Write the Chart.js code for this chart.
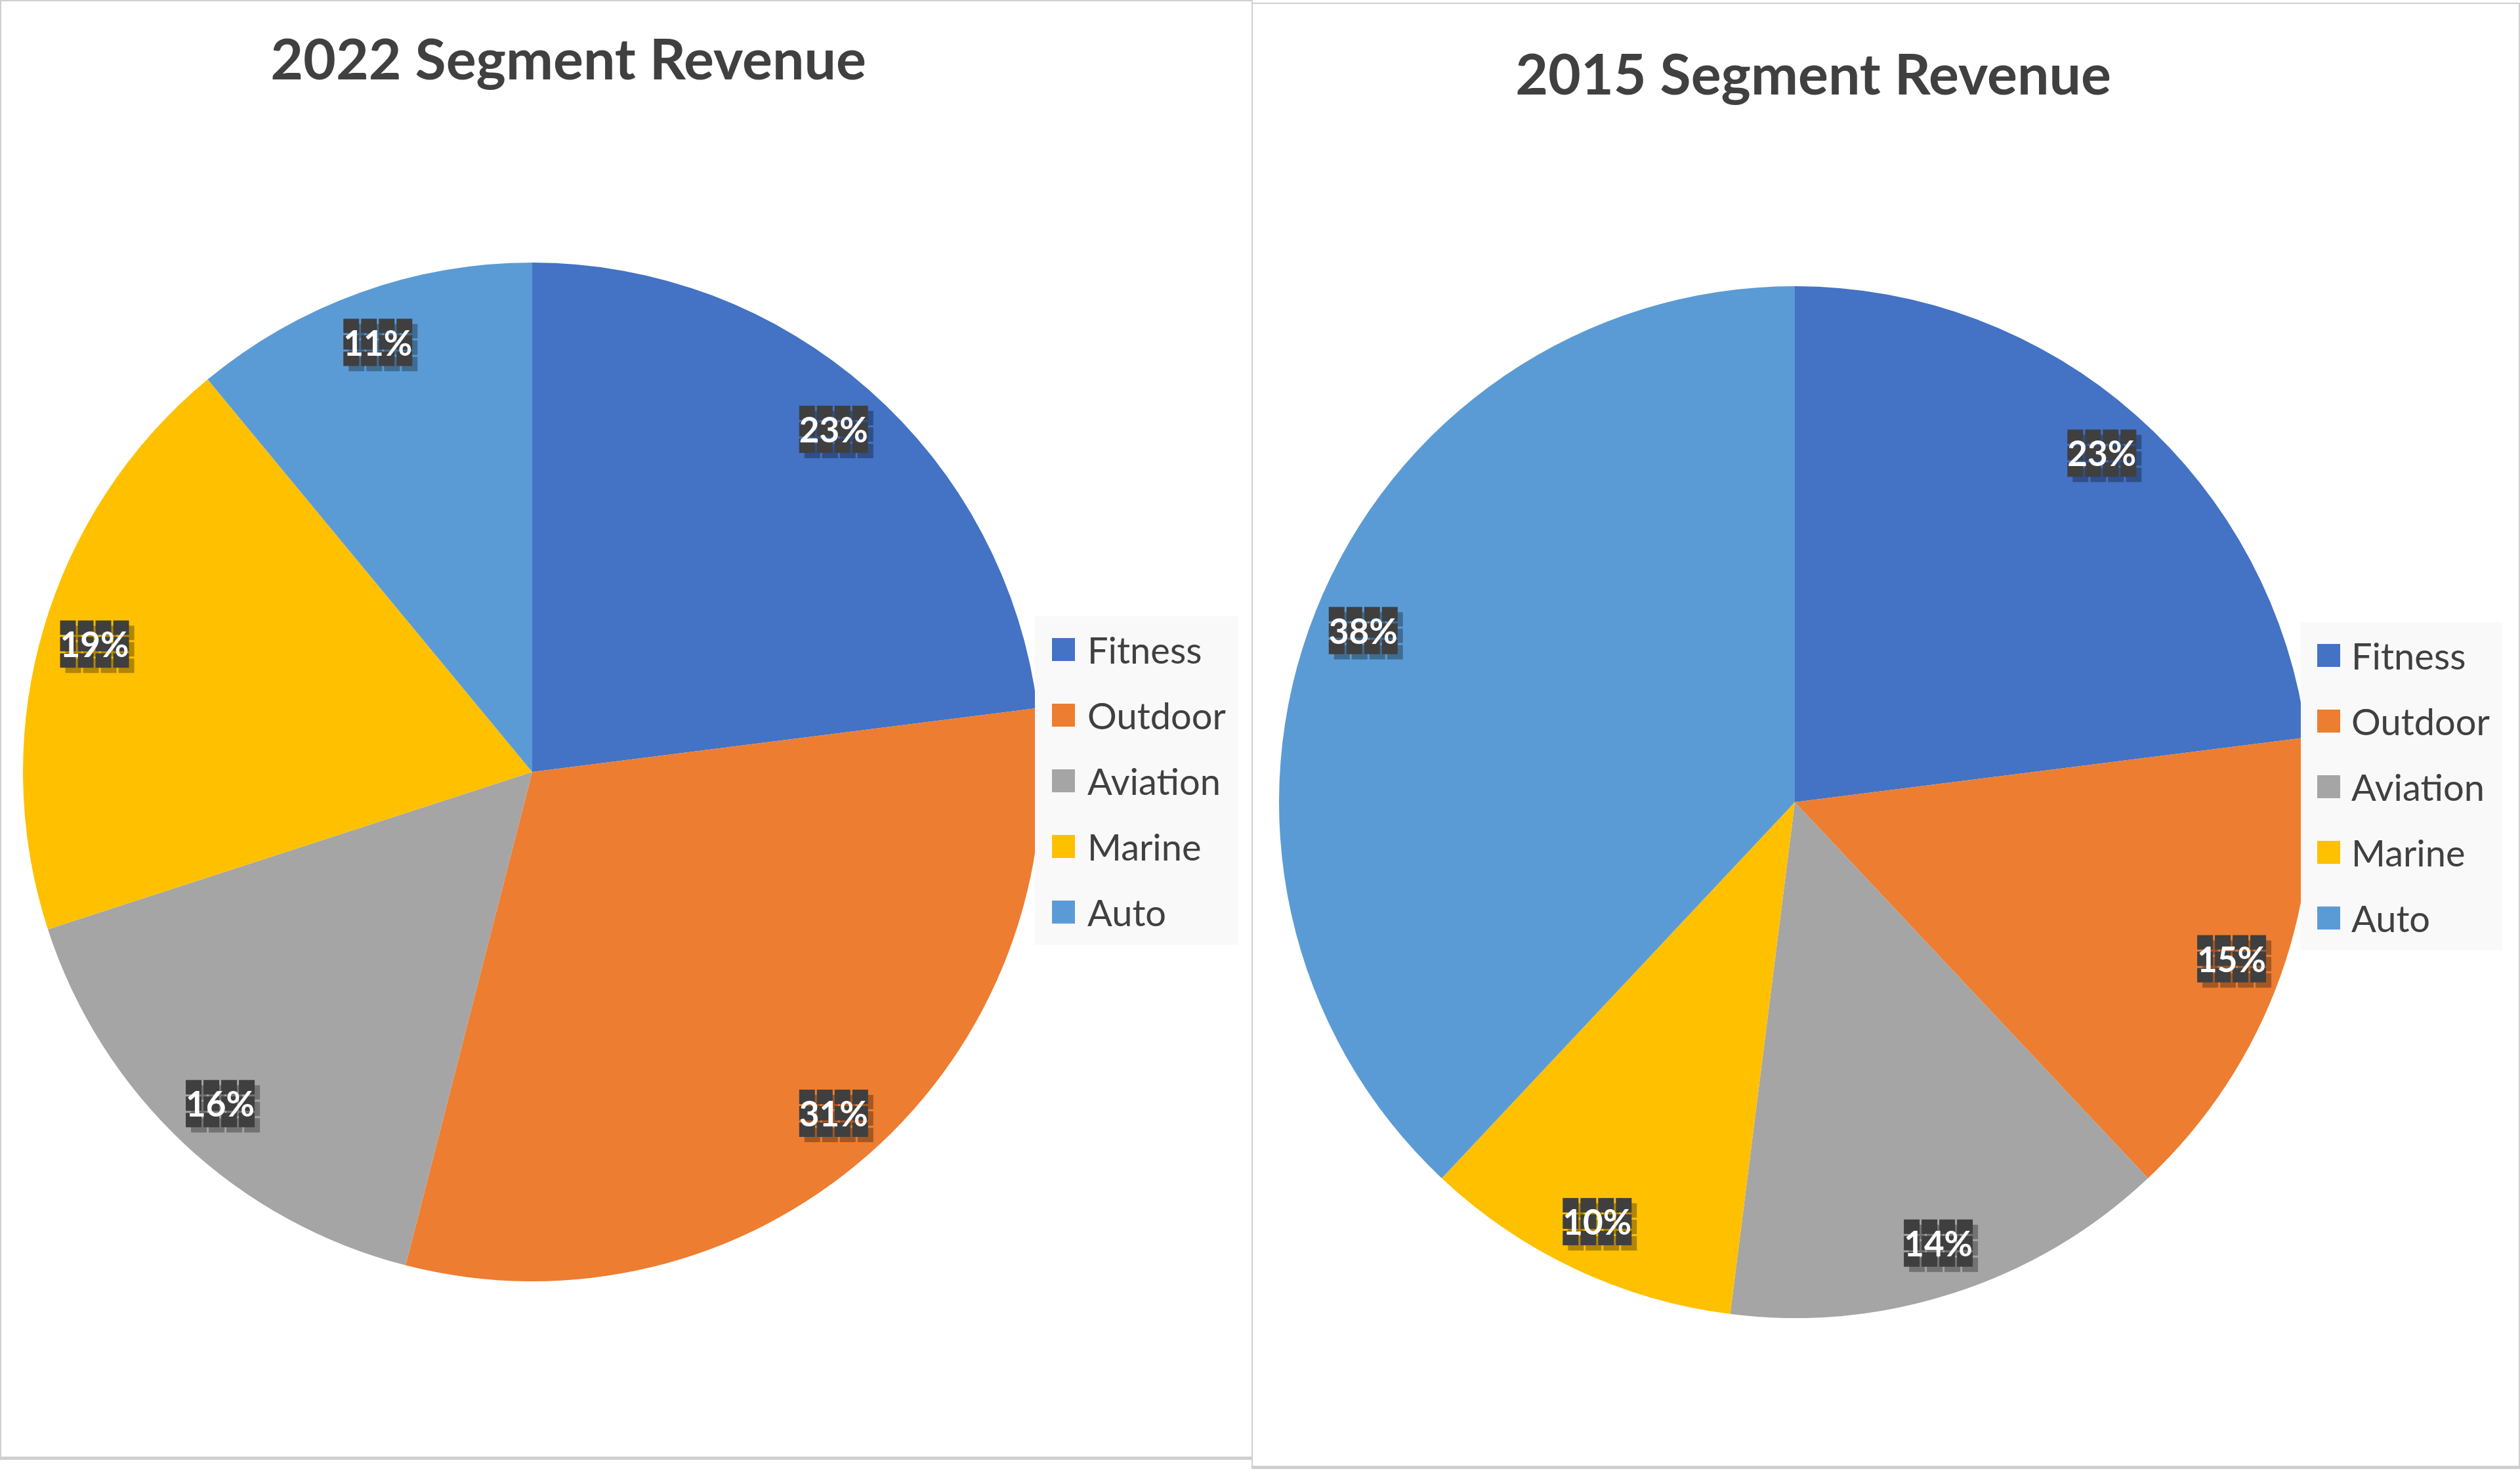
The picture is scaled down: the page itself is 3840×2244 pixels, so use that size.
<!DOCTYPE html>
<html>
<head>
<meta charset="utf-8">
<script src="https://cdn.jsdelivr.net/npm/chart.js@4.4.1/dist/chart.umd.min.js"></script>
<style>
  html, body { margin: 0; padding: 0; background: #fff; width: 3840px; height: 2244px; overflow: hidden; }
  .panel { position: absolute; box-sizing: border-box; border: 2px solid #cfcfcf; border-bottom-width: 5px; background: #fff; }
  .title { position: absolute; font-family: Lato, sans-serif; font-weight: 700; font-size: 86px; line-height: 86px; color: #404040; white-space: nowrap; transform: translateX(-50%); }
  .legend { position: absolute; background: #f9f9f9; font-family: Lato, sans-serif; font-size: 56px; color: #404040; }
  .legend .row { display: flex; align-items: center; height: 100px; }
  .legend .sw { width: 35px; height: 35px; flex: none; }
  canvas { position: absolute; }
</style>
</head>
<body>
<div class="panel" style="left:0;top:0;width:1909px;height:2224px"></div>
<div class="panel" style="left:1907px;top:4px;width:1933px;height:2234px"></div>

<div class="title" id="title1" style="left:866px;top:45px"></div>
<div class="title" id="title2" style="left:2763px;top:68px"></div>

<canvas id="pie1" width="1552" height="1552" style="left:35px;top:400px"></canvas>
<canvas id="pie2" width="1572" height="1572" style="left:1949px;top:436px"></canvas>

<div class="legend" id="legend1" style="left:1577px;top:939px;width:310px;height:500px"></div>
<div class="legend" id="legend2" style="left:3506px;top:948px;width:307px;height:500px"></div>

<script>
const segments = ['Fitness', 'Outdoor', 'Aviation', 'Marine', 'Auto'];
const colors = ['#4472C4', '#ED7D31', '#A5A5A5', '#FFC000', '#5B9BD5'];
const share2022 = [23, 31, 16, 19, 11];
const share2015 = [23, 15, 14, 10, 38];
const title2022 = '2022 Segment Revenue';
const title2015 = '2015 Segment Revenue';

// percent labels on dark tiles, like the excel export
const pieLabels = {
  id: 'pieLabels',
  afterDatasetsDraw(chart, args, opts) {
    const ctx = chart.ctx;
    const meta = chart.getDatasetMeta(0);
    const data = chart.data.datasets[0].data;
    const total = data.reduce((a, b) => a + b, 0);
    ctx.save();
    ctx.font = 'bold 53px Lato, sans-serif';
    ctx.textAlign = 'center';
    ctx.textBaseline = 'middle';
    meta.data.forEach((arc, i) => {
      const p = arc.getProps(['x', 'y', 'startAngle', 'endAngle', 'outerRadius'], true);
      const mid = (p.startAngle + p.endAngle) / 2;
      const r = p.outerRadius * opts.offset;
      const x = p.x + Math.cos(mid) * r;
      const y = p.y + Math.sin(mid) * r;
      const text = Math.round(data[i] / total * 100) + '%';
      const tw = ctx.measureText(text).width;
      const cols = Math.max(3, Math.round((tw + 6) / 27));
      const gw = cols * 27 - 3;
      const x0 = x - gw / 2, y0 = y - 37;
      [[8, 'rgba(0,0,0,0.3)'], [0, '#3f3f3f']].forEach(([off, col]) => {
        ctx.fillStyle = col;
        for (let c = 0; c < cols; c++) {
          for (let rr = 0; rr < 3; rr++) {
            ctx.fillRect(x0 + off + c * 27, y0 + off + rr * 25, 24, 22);
          }
        }
      });
      ctx.fillStyle = '#fff';
      ctx.fillText(text, x, y + 2);
    });
    ctx.restore();
  }
};

function makePie(id, values, offset) {
  return new Chart(document.getElementById(id), {
    type: 'pie',
    data: {
      labels: segments,
      datasets: [{ data: values, backgroundColor: colors, borderWidth: 0 }]
    },
    options: {
      responsive: false,
      animation: false,
      layout: { padding: 0 },
      plugins: {
        legend: { display: false },
        tooltip: { enabled: false },
        pieLabels: { offset: offset }
      }
    },
    plugins: [pieLabels]
  });
}

function makeLegend(id, padLeft, gap) {
  const el = document.getElementById(id);
  segments.forEach((name, i) => {
    const row = document.createElement('div');
    row.className = 'row';
    row.style.paddingLeft = padLeft + 'px';
    row.innerHTML = '<div class="sw" style="background:' + colors[i] + ';margin-right:' + gap + 'px"></div><span>' + name + '</span>';
    el.appendChild(row);
  });
}

document.getElementById('title1').textContent = title2022;
document.getElementById('title2').textContent = title2015;
makePie('pie1', share2022, 0.895);
makePie('pie2', share2015, 0.9);
makeLegend('legend1', 26, 19);
makeLegend('legend2', 25, 17);
</script>
</body>
</html>
